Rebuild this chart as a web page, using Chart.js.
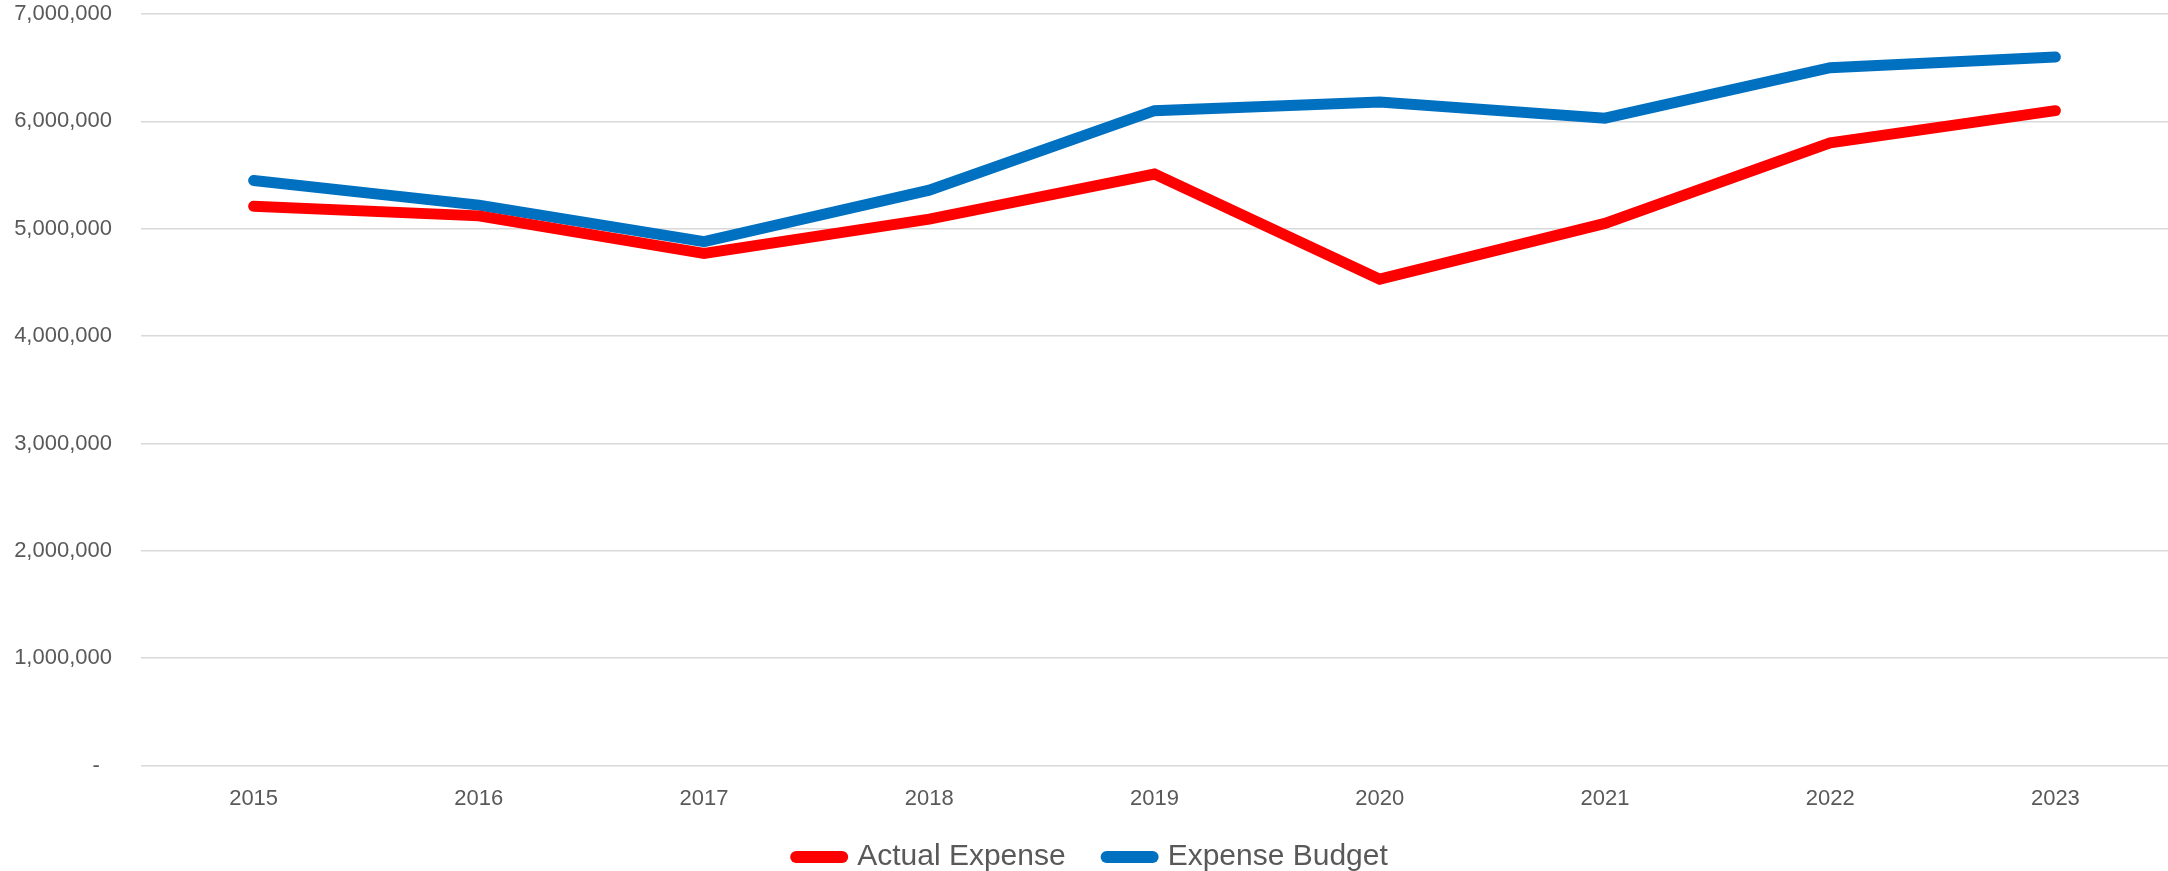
<!DOCTYPE html>
<html>
<head>
<meta charset="utf-8">
<script src="https://cdn.jsdelivr.net/npm/chart.js@4/dist/chart.umd.min.js"></script>
<style>
  html, body { margin: 0; padding: 0; background: #ffffff; }
  #wrap { width: 2168px; height: 871px; }
</style>
</head>
<body>
<div id="wrap"><canvas id="expenseChart" width="2168" height="871"></canvas></div>
<script>
// Years on the x axis
const years = ['2015', '2016', '2017', '2018', '2019', '2020', '2021', '2022', '2023'];

// Series values
const actualExpense = [5210000, 5120000, 4770000, 5090000, 5510000, 4530000, 5050000, 5800000, 6100000];
const expenseBudget = [5450000, 5220000, 4880000, 5360000, 6100000, 6180000, 6030000, 6500000, 6600000];

// Y axis range and step
const yMin = 0;
const yMax = 7000000;
const yStep = 1000000;

const textColor = '#595959';
const gridColor = '#d9d9d9';
const fontFamily = "'Liberation Sans', Arial, sans-serif";

// Accounting style labels, zero shown as a dash
function formatTick(value) {
    if (value === 0) return '-  ';
    return value.toLocaleString('en-US');
}

// Legend swatches drawn as thick lines with round ends
function legendLabels(chart) {
    const items = Chart.defaults.plugins.legend.labels.generateLabels(chart);
    items.forEach(item => {
        item.lineCap = 'round';
        item.lineWidth = 12;
    });
    return items;
}

// Move the legend up under the year labels and a bit to the right
const legendNudge = {
    id: 'legendNudge',
    afterLayout(chart) {
        const lg = chart.legend;
        if (lg) {
            lg.top -= 32;
            lg.bottom -= 32;
            lg.left += 8;
            lg.right += 8;
        }
    }
};

const ctx = document.getElementById('expenseChart');
new Chart(ctx, {
    type: 'line',
    data: {
        labels: years,
        datasets: [{
            label: 'Actual Expense',
            data: actualExpense,
            borderColor: '#ff0000',
            backgroundColor: '#ff0000',
            borderWidth: 11,
            borderCapStyle: 'round',
            pointRadius: 0,
            pointStyle: 'line',
            tension: 0
        }, {
            label: 'Expense Budget',
            data: expenseBudget,
            borderColor: '#0070c0',
            backgroundColor: '#0070c0',
            borderWidth: 11,
            borderCapStyle: 'round',
            pointRadius: 0,
            pointStyle: 'line',
            tension: 0
        }]
    },
    plugins: [legendNudge],
    options: {
        responsive: false,
        animation: false,
        devicePixelRatio: 1,
        layout: {
            padding: { top: 14, left: 0, right: 0, bottom: -43 }
        },
        plugins: {
            tooltip: { enabled: false },
            legend: {
                position: 'bottom',
                labels: {
                    usePointStyle: true,
                    pointStyleWidth: 46,
                    padding: 41,
                    color: textColor,
                    font: { family: fontFamily, size: 30 },
                    generateLabels: legendLabels
                }
            }
        },
        scales: {
            x: {
                offset: true,
                grid: { display: false, drawTicks: false },
                border: { display: false },
                ticks: {
                    padding: 20.5,
                    color: textColor,
                    maxRotation: 0,
                    font: { family: fontFamily, size: 22 }
                }
            },
            y: {
                min: yMin,
                max: yMax,
                grid: { color: gridColor, lineWidth: 1.5, drawTicks: false },
                border: { display: false },
                ticks: {
                    stepSize: yStep,
                    padding: 29,
                    color: textColor,
                    font: { family: fontFamily, size: 22 },
                    callback: formatTick
                },
                afterFit: function (scale) {
                    scale.width = 141;
                    // keep only half a label of room above the top tick
                    scale.paddingTop = 13;
                    scale.paddingBottom = 13;
                }
            }
        }
    }
});
</script>
</body>
</html>
